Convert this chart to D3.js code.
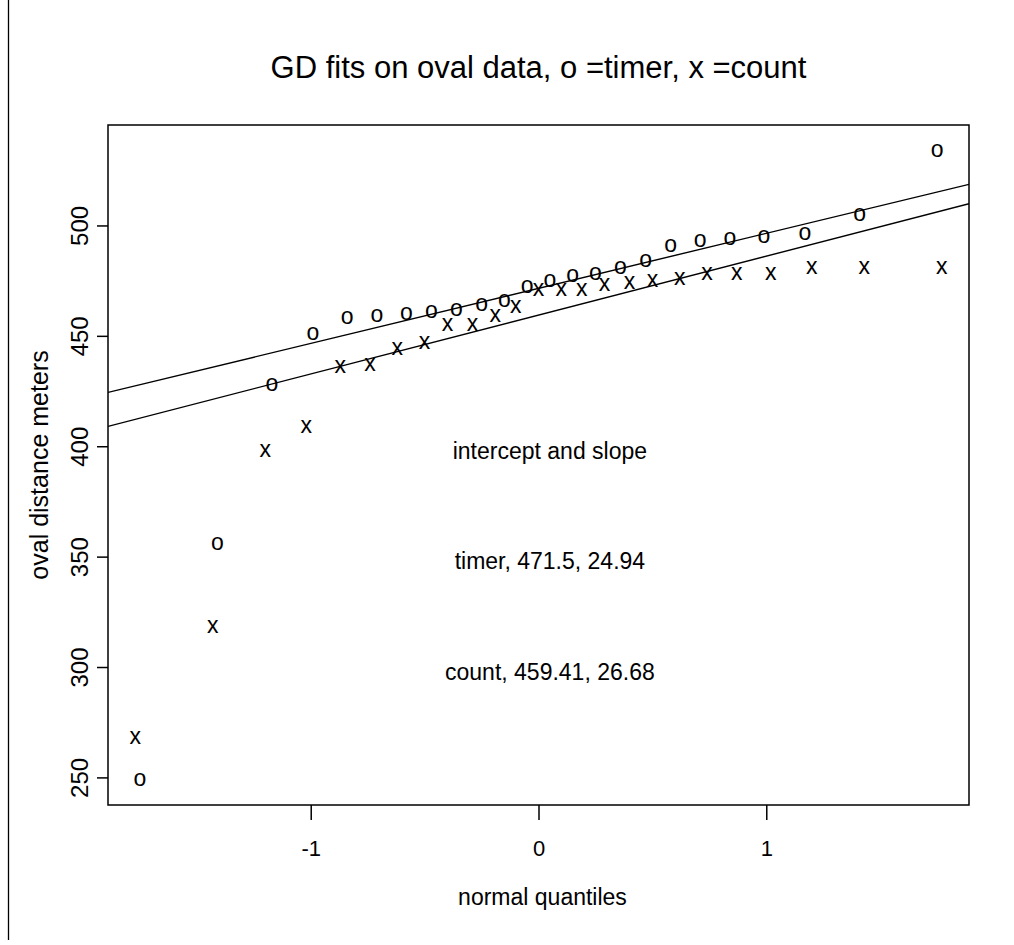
<!DOCTYPE html>
<html lang="en">
<head>
    <meta charset="utf-8">
    <script src="https://d3js.org/d3.v7.min.js"></script>
</head>
<body style="margin:0;background:#fff">
<style>
    text {
        font-family: "Liberation Sans", Arial, sans-serif;
        fill: #000;
    }
</style>
<svg></svg>
<script>
    // normal quantiles (x) and oval distances (y)
    const timerQ = [-1.75, -1.41, -1.17, -0.99, -0.84, -0.71, -0.58, -0.47, -0.36, -0.25, -0.15, -0.05,
        0.05, 0.15, 0.25, 0.36, 0.47, 0.58, 0.71, 0.84, 0.99, 1.17, 1.41, 1.75];
    const timerDist = [249, 356, 428, 451, 458, 459, 460, 461, 462, 464, 466, 472,
        475, 477, 478, 481, 484, 491, 493, 494, 495, 496, 505, 534];
    const countQ = [-1.77, -1.43, -1.20, -1.02, -0.87, -0.74, -0.62, -0.50, -0.40, -0.29, -0.19, -0.10, 0,
        0.10, 0.19, 0.29, 0.40, 0.50, 0.62, 0.74, 0.87, 1.02, 1.20, 1.43, 1.77];
    const countDist = [268, 318, 398, 409, 436, 437, 444, 447, 455, 455, 459, 463, 471,
        471, 471, 473, 474, 475, 476, 478, 478, 478, 481, 481, 481];

    // GD fits
    const fitNames = ['timer', 'count'];
    const fitIntercepts = [471.5, 459.41];
    const fitSlopes = [24.94, 26.68];

    const xTicks = [-1, 0, 1];
    const yTicks = [250, 300, 350, 400, 450, 500];

    const width = 1014;
    const height = 945;
    const box = {left: 108, top: 125, right: 969, bottom: 805};

    const svg = d3.select('svg')
        .attr('width', width)
        .attr('height', height);

    const x = d3.scaleLinear().domain([-1.89, 1.89]).range([box.left, box.right]);
    const y = d3.scaleLinear().domain([237.5, 545.5]).range([box.bottom, box.top]);

    // page border line on the far left
    svg.append('line')
        .attr('x1', 8.5).attr('x2', 8.5)
        .attr('y1', 0).attr('y2', 940)
        .attr('stroke', '#000').attr('stroke-width', 1.3);

    svg.append('defs').append('clipPath').attr('id', 'plotclip')
        .append('rect')
        .attr('x', box.left).attr('y', box.top)
        .attr('width', box.right - box.left).attr('height', box.bottom - box.top);

    // axes
    const xAxis = svg.append('g')
        .attr('transform', `translate(0,${box.bottom})`)
        .call(d3.axisBottom(x).tickValues(xTicks).tickSize(15).tickFormat((d) => String(d)));
    xAxis.select('.domain').remove();
    xAxis.selectAll('line').attr('stroke', '#000').attr('stroke-width', 1.5);
    xAxis.selectAll('text')
        .attr('y', 51).attr('dy', 0)
        .style('font-size', '22px');

    const yAxis = svg.append('g')
        .attr('transform', `translate(${box.left},0)`)
        .call(d3.axisLeft(y).tickValues(yTicks).tickSize(11));
    yAxis.select('.domain').remove();
    yAxis.selectAll('line').attr('stroke', '#000').attr('stroke-width', 1.5);
    yAxis.selectAll('text')
        .attr('transform', 'rotate(-90)')
        .attr('x', 0).attr('y', -20).attr('dy', 0)
        .attr('text-anchor', 'middle')
        .style('font-size', '24px');

    // fit lines
    const xd = x.domain();
    svg.append('g').attr('clip-path', 'url(#plotclip)')
        .selectAll('line')
        .data(fitNames)
        .enter().append('line')
        .attr('x1', x(xd[0]))
        .attr('x2', x(xd[1]))
        .attr('y1', (d, i) => y(fitIntercepts[i] + fitSlopes[i] * xd[0]))
        .attr('y2', (d, i) => y(fitIntercepts[i] + fitSlopes[i] * xd[1]))
        .attr('stroke', '#000')
        .attr('stroke-width', 1.4);

    // points drawn as characters
    const drawPoints = (qs, vals, ch) => {
        svg.append('g').selectAll('text')
            .data(qs)
            .enter().append('text')
            .attr('x', (d) => x(d))
            .attr('y', (d, i) => y(vals[i]))
            .attr('dy', '0.27em')
            .attr('text-anchor', 'middle')
            .style('font-size', '23px')
            .text(ch);
    };
    drawPoints(timerQ, timerDist, 'o');
    drawPoints(countQ, countDist, 'x');

    // plot frame
    svg.append('rect')
        .attr('x', box.left).attr('y', box.top)
        .attr('width', box.right - box.left).attr('height', box.bottom - box.top)
        .attr('fill', 'none').attr('stroke', '#000').attr('stroke-width', 1.5);

    // annotations
    const notes = ['intercept and slope'].concat(
        fitNames.map((n, i) => `${n}, ${fitIntercepts[i]}, ${fitSlopes[i]}`));
    const noteY = [400, 350, 300];
    svg.append('g').selectAll('text')
        .data(notes)
        .enter().append('text')
        .attr('x', x(0.05))
        .attr('y', (d, i) => y(noteY[i]))
        .attr('dy', '0.55em')
        .attr('text-anchor', 'middle')
        .style('font-size', '23px')
        .text((d) => d);

    // titles
    svg.append('text')
        .attr('x', (box.left + box.right) / 2)
        .attr('y', 78)
        .attr('text-anchor', 'middle')
        .style('font-size', '31px')
        .text('GD fits on oval data, o =timer, x =count');

    svg.append('text')
        .attr('x', (box.left + box.right) / 2 + 4)
        .attr('y', 905)
        .attr('text-anchor', 'middle')
        .style('font-size', '23px')
        .text('normal quantiles');

    svg.append('text')
        .attr('transform', `translate(48,${(box.top + box.bottom) / 2}) rotate(-90)`)
        .attr('text-anchor', 'middle')
        .style('font-size', '25px')
        .text('oval distance meters');
</script>
</body>
</html>
